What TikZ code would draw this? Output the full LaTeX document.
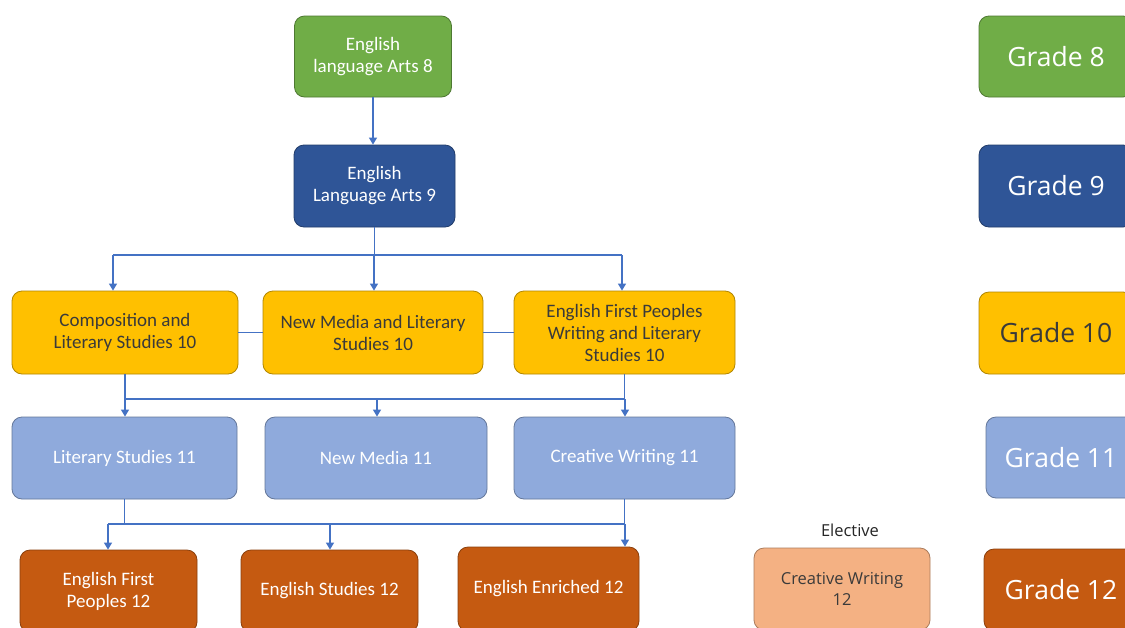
\documentclass[tikz,border=0pt]{standalone}
\usepackage{fontspec}
\setmainfont{Carlito}
\newfontfamily\gradefont{Open Sans}
\usetikzlibrary{arrows.meta}
\definecolor{cgreen}{HTML}{70AD47}
\definecolor{cdblue}{HTML}{2F5597}
\definecolor{cyellow}{HTML}{FFC000}
\definecolor{clblue}{HTML}{8FAADC}
\definecolor{corange}{HTML}{C55A11}
\definecolor{clorange}{HTML}{F4B183}
\definecolor{cline}{HTML}{4472C4}
\definecolor{cdtext}{HTML}{3A3A3A}
\begin{document}
\begin{tikzpicture}[x=1pt,y=-1pt,
  box/.style={rounded corners=10pt, draw=#1!70!black, fill=#1, line width=0.8pt,
    align=center, inner sep=0pt, font=\fontsize{19}{22}\selectfont, text=white},
  grade/.style={box=#1, font=\gradefont\fontsize{26.5}{30}\selectfont},
  conn/.style={draw=cline, line width=1.2pt},
  arr/.style={conn, -{Triangle[width=8pt,length=7pt]}}
]
\clip (0,0) rectangle (1125,627);
\fill[white] (0,0) rectangle (1125,627);

% grade 8-9
\node[box=cgreen, minimum width=157pt, minimum height=81pt] (ela8) at (373,56.5) {English\\language Arts 8};
\node[box=cdblue, minimum width=161pt, minimum height=82pt] (ela9) at (374.5,186) {English\\Language Arts 9};

% grade 10
\node[box=cyellow, text=cdtext, minimum width=226pt, minimum height=83pt] (comp) at (125,332.5) {Composition and\\Literary Studies 10};
\node[box=cyellow, text=cdtext, minimum width=220pt, minimum height=83pt] (nm10) at (373,332.5) {New Media and Literary\\Studies 10};
\node[box=cyellow, text=cdtext, minimum width=221pt, minimum height=83pt] (efp10) at (624.5,332.5) {English First Peoples\\Writing and Literary\\Studies 10};

% grade 11
\node[box=clblue, minimum width=225pt, minimum height=82pt] (lit11) at (124.5,458) {Literary Studies 11};
\node[box=clblue, minimum width=222pt, minimum height=82pt] (nm11) at (376,458) {New Media 11};
\node[box=clblue, minimum width=221pt, minimum height=82pt] (cw11) at (624.5,458) {Creative Writing 11};

% grade 12
\node[box=corange, minimum width=177pt, minimum height=82pt] (efp12) at (108.5,591) {English First\\Peoples 12};
\node[box=corange, minimum width=177pt, minimum height=82pt] (es12) at (329.5,591) {English Studies 12};
\node[box=corange, minimum width=181pt, minimum height=84pt] (ee12) at (548.5,589) {English Enriched 12};
\node[box=clorange, text=cdtext, font=\gradefont\fontsize{16.5}{21}\selectfont, minimum width=176pt, minimum height=82pt] (cw12) at (842,589) {Creative Writing\\12};
\node[text=black!85, font=\gradefont\fontsize{16.5}{20}\selectfont] (elective) at (850,530) {Elective};

% grade labels
\node[grade=cgreen, minimum width=154pt, minimum height=81pt] (g8) at (1056,56.5) {Grade 8};
\node[grade=cdblue, minimum width=154pt, minimum height=82pt] (g9) at (1056,186) {Grade 9};
\node[grade=cyellow, text=cdtext, minimum width=154pt, minimum height=82pt] (g10) at (1056,333) {Grade 10};
\node[grade=clblue, minimum width=150pt, minimum height=81pt] (g11) at (1061,457.5) {Grade 11};
\node[grade=corange, minimum width=154pt, minimum height=82pt] (g12) at (1061,590) {Grade 12};

% connectors
\draw[arr] (ela8.south) -- (ela8.south |- ela9.north);

\coordinate (bL) at (113,255);
\coordinate (bR) at (622,255);
\coordinate (bM) at (374,255);
\draw[conn] (ela9.south) -- (ela9.south |- bM);
\draw[arr] (bM) -- (bM |- nm10.north);
\draw[conn] (bL) -- (bR);
\draw[arr] (bL) -- (bL |- comp.north);
\draw[arr] (bR) -- (bR |- efp10.north);

\draw[conn] (comp.east) -- (nm10.west);
\draw[conn] (nm10.east) -- (efp10.west);

\coordinate (cL) at (125,399);
\coordinate (cR) at (625,399);
\coordinate (cM) at (377,399);
\draw[conn] (comp.south) -- (cL) -- (cR);
\draw[conn] (efp10.south) -- (efp10.south |- cR);
\draw[arr] (cL) -- (cL |- lit11.north);
\draw[arr] (cM) -- (cM |- nm11.north);
\draw[arr] (cR) -- (cR |- cw11.north);

\coordinate (dL) at (108,524);
\coordinate (dM) at (330,524);
\coordinate (dR) at (625,524);
\draw[conn] (lit11.south) -- (lit11.south |- dL);
\draw[conn] (dL) -- (dR);
\draw[conn] (cw11.south) -- (cw11.south |- dR);
\draw[arr] (dL) -- (dL |- efp12.north);
\draw[arr] (dM) -- (dM |- es12.north);
\draw[arr] (dR) -- (dR |- ee12.north);
\end{tikzpicture}
\end{document}
